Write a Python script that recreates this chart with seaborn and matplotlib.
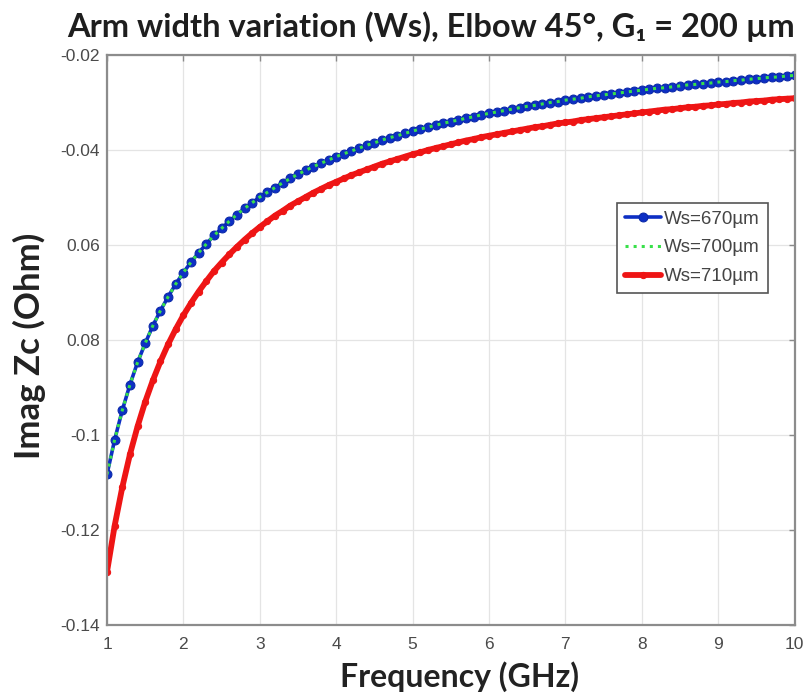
import pandas as pd
import matplotlib.pyplot as plt
import seaborn as sns

# frequency sweep (GHz)
freq = [1.0, 1.1, 1.2, 1.3, 1.4, 1.5, 1.6, 1.7, 1.8, 1.9,
        2.0, 2.1, 2.2, 2.3, 2.4, 2.5, 2.6, 2.7, 2.8, 2.9,
        3.0, 3.1, 3.2, 3.3, 3.4, 3.5, 3.6, 3.7, 3.8, 3.9,
        4.0, 4.1, 4.2, 4.3, 4.4, 4.5, 4.6, 4.7, 4.8, 4.9,
        5.0, 5.1, 5.2, 5.3, 5.4, 5.5, 5.6, 5.7, 5.8, 5.9,
        6.0, 6.1, 6.2, 6.3, 6.4, 6.5, 6.6, 6.7, 6.8, 6.9,
        7.0, 7.1, 7.2, 7.3, 7.4, 7.5, 7.6, 7.7, 7.8, 7.9,
        8.0, 8.1, 8.2, 8.3, 8.4, 8.5, 8.6, 8.7, 8.8, 8.9,
        9.0, 9.1, 9.2, 9.3, 9.4, 9.5, 9.6, 9.7, 9.8, 9.9, 10.0]

# Imag Zc (Ohm)
ws670 = [-0.1083, -0.1010, -0.0948, -0.0894, -0.0847, -0.0807, -0.0770, -0.0738, -0.0709, -0.0682,
         -0.0658, -0.0636, -0.0616, -0.0598, -0.0580, -0.0565, -0.0550, -0.0536, -0.0523, -0.0511,
         -0.0499, -0.0489, -0.0479, -0.0469, -0.0460, -0.0451, -0.0443, -0.0435, -0.0428, -0.0421,
         -0.0414, -0.0408, -0.0402, -0.0396, -0.0390, -0.0385, -0.0379, -0.0374, -0.0370, -0.0365,
         -0.0360, -0.0356, -0.0352, -0.0348, -0.0344, -0.0340, -0.0337, -0.0333, -0.0330, -0.0326,
         -0.0323, -0.0320, -0.0317, -0.0314, -0.0311, -0.0308, -0.0306, -0.0303, -0.0300, -0.0298,
         -0.0295, -0.0293, -0.0291, -0.0288, -0.0286, -0.0284, -0.0282, -0.0280, -0.0278, -0.0276,
         -0.0274, -0.0272, -0.0270, -0.0269, -0.0267, -0.0265, -0.0263, -0.0262, -0.0260, -0.0259,
         -0.0257, -0.0256, -0.0254, -0.0253, -0.0251, -0.0250, -0.0248, -0.0247, -0.0246, -0.0244, -0.0243]

ws700 = [-0.1083, -0.1010, -0.0948, -0.0894, -0.0847, -0.0807, -0.0770, -0.0738, -0.0709, -0.0682,
         -0.0658, -0.0636, -0.0616, -0.0598, -0.0580, -0.0565, -0.0550, -0.0536, -0.0523, -0.0511,
         -0.0499, -0.0489, -0.0479, -0.0469, -0.0460, -0.0451, -0.0443, -0.0435, -0.0428, -0.0421,
         -0.0414, -0.0408, -0.0402, -0.0396, -0.0390, -0.0385, -0.0379, -0.0374, -0.0370, -0.0365,
         -0.0360, -0.0356, -0.0352, -0.0348, -0.0344, -0.0340, -0.0337, -0.0333, -0.0330, -0.0326,
         -0.0323, -0.0320, -0.0317, -0.0314, -0.0311, -0.0308, -0.0306, -0.0303, -0.0300, -0.0298,
         -0.0295, -0.0293, -0.0291, -0.0288, -0.0286, -0.0284, -0.0282, -0.0280, -0.0278, -0.0276,
         -0.0274, -0.0272, -0.0270, -0.0269, -0.0267, -0.0265, -0.0263, -0.0262, -0.0260, -0.0259,
         -0.0257, -0.0256, -0.0254, -0.0253, -0.0251, -0.0250, -0.0248, -0.0247, -0.0246, -0.0244, -0.0243]

ws710 = [-0.1288, -0.1191, -0.1110, -0.1041, -0.0982, -0.0930, -0.0885, -0.0845, -0.0809, -0.0777,
         -0.0748, -0.0722, -0.0698, -0.0676, -0.0655, -0.0637, -0.0620, -0.0604, -0.0589, -0.0575,
         -0.0562, -0.0550, -0.0538, -0.0528, -0.0517, -0.0508, -0.0499, -0.0490, -0.0482, -0.0474,
         -0.0467, -0.0460, -0.0453, -0.0447, -0.0441, -0.0435, -0.0429, -0.0424, -0.0419, -0.0414,
         -0.0409, -0.0405, -0.0400, -0.0396, -0.0392, -0.0388, -0.0384, -0.0380, -0.0377, -0.0373,
         -0.0370, -0.0367, -0.0364, -0.0361, -0.0358, -0.0355, -0.0352, -0.0350, -0.0347, -0.0344,
         -0.0342, -0.0340, -0.0337, -0.0335, -0.0333, -0.0331, -0.0329, -0.0327, -0.0325, -0.0323,
         -0.0321, -0.0319, -0.0317, -0.0315, -0.0314, -0.0312, -0.0310, -0.0309, -0.0307, -0.0306,
         -0.0304, -0.0303, -0.0301, -0.0300, -0.0298, -0.0297, -0.0296, -0.0294, -0.0293, -0.0292, -0.0291]

series_labels = ['Ws=670µm', 'Ws=700µm', 'Ws=710µm']
x_ticks = [1, 2, 3, 4, 5, 6, 7, 8, 9, 10]
y_ticks = [-0.14, -0.12, -0.10, -0.08, -0.06, -0.04, -0.02]
y_tick_labels = ['-0.14', '-0.12', '-0.1', '0.08', '0.06', '-0.04', '-0.02']

df = pd.DataFrame({'freq': freq, 'ws670': ws670, 'ws700': ws700, 'ws710': ws710})

sns.set_style('white')
head_font = ['Lato', 'DejaVu Sans']
tick_font = ['Liberation Sans', 'DejaVu Sans']

fig = plt.figure(figsize=(8.07, 6.98), dpi=100)
ax = fig.add_axes([0.1326, 0.1046, 0.852, 0.8166])

sns.lineplot(data=df, x='freq', y='ws670', ax=ax, color='#0d2fc4', linewidth=2.6,
             marker='o', markersize=6.4, markeredgecolor='#0a28a8', label=series_labels[0])
sns.lineplot(data=df, x='freq', y='ws700', ax=ax, color='#38e04a', linewidth=2.2,
             linestyle=':', label=series_labels[1])
sns.lineplot(data=df, x='freq', y='ws710', ax=ax, color='#ee1515', linewidth=4.2,
             marker='o', markersize=4.5, markeredgecolor='#ee1515', label=series_labels[2])

ax.set_xlim(1, 10)
ax.set_ylim(-0.14, -0.02)
ax.set_xticks(x_ticks)
ax.set_xticklabels([str(t) for t in x_ticks])
ax.set_yticks(y_ticks)
ax.set_yticklabels(y_tick_labels)
ax.grid(True, color='#e4e4e4', linewidth=0.9)
ax.tick_params(direction='in', length=4, width=1, colors='#8a8a8a',
               top=True, right=True, labelcolor='#4a4a4a', labelsize=12.5)
ax.tick_params(axis='x', pad=8.5)
ax.tick_params(axis='y', pad=5)
for lbl in ax.get_xticklabels() + ax.get_yticklabels():
    lbl.set_family(tick_font)
for sp in ax.spines.values():
    sp.set_color('#8c8c8c')
    sp.set_linewidth(1.6)

ax.set_xlabel('Frequency (GHz)', fontsize=23, fontweight='bold', family=head_font,
              color='#222222')
ax.xaxis.set_label_coords(0.512, -0.063)
ax.set_ylabel('Imag Zc (Ohm)', fontsize=25, fontweight='bold', family=head_font,
              color='#222222')
ax.yaxis.set_label_coords(-0.089, 0.49)
fig.text(0.534, 0.962, 'Arm width variation (Ws), Elbow 45°, G₁ = 200 µm',
         ha='center', va='center', fontsize=23.5, fontweight='bold',
         family=head_font, color='#1e1e1e')

leg = ax.legend(loc='upper right', bbox_to_anchor=(0.9608, 0.7404), borderaxespad=0,
                frameon=True, fancybox=False, framealpha=1, edgecolor='#555555',
                prop={'family': tick_font, 'size': 13.5}, handlelength=1.9,
                borderpad=0.4, labelspacing=0.62, handletextpad=0.2)
leg.get_frame().set_linewidth(1.2)
for txt in leg.get_texts():
    txt.set_color('#444444')

fig.savefig('out.png', dpi=100)
